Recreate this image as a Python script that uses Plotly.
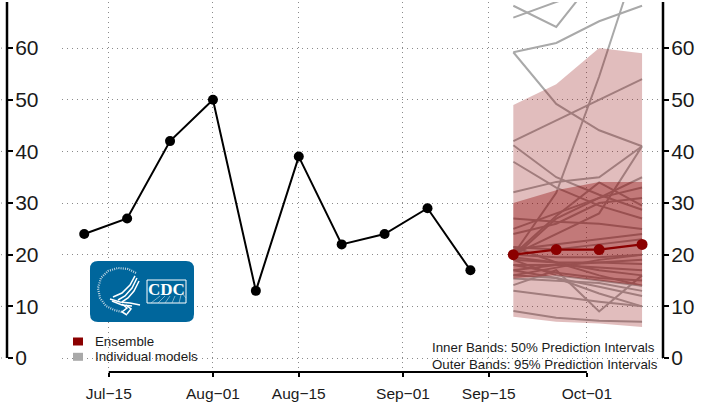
import plotly.graph_objects as go

# ---------- data ----------
obs_dates = ["2021-07-11", "2021-07-18", "2021-07-25", "2021-08-01", "2021-08-08",
             "2021-08-15", "2021-08-22", "2021-08-29", "2021-09-05", "2021-09-12"]
obs_values = [24, 27, 42, 50, 13, 39, 22, 24, 29, 17]

fc_dates = ["2021-09-19", "2021-09-26", "2021-10-03", "2021-10-10"]
ensemble = [20, 21, 21, 22]
lo95 = [8, 7, 6.7, 6]
hi95 = [49, 53, 60, 59]
lo50 = [15.4, 16, 15, 14]
hi50 = [30, 32.5, 34.1, 34.1]

models = [
    [65.9, 69, 72, 75], [68.2, 64.1, 74.6, 78], [59.2, 61, 65.2, 68.2], [59.2, 49.2, 44.1, 41],
    [20, 32, 54.5, 80], [42, 46, 50, 54], [41.2, 35, 31.6, 28.7], [38, 33, 29.5, 27],
    [32.1, 34.1, 35, 41], [19.5, 27, 31, 35], [20, 27.5, 34, 29.5], [20, 24, 28, 41],
    [27, 26.4, 26, 25], [25, 28, 31, 33], [24, 26, 30, 31], [21, 22, 23, 24], [21.5, 21, 22, 23],
    [9.1, 7.8, 7.2, 7], [13, 11.9, 10.9, 10], [14.1, 17, 9, 16], [17, 15.5, 12.5, 10],
    [16, 15.5, 13.8, 12], [15.4, 15, 14.5, 13], [19, 16, 15, 14], [18, 16.5, 15.5, 15],
    [19.5, 18.5, 17, 16], [18, 18, 17.5, 17], [19, 18.5, 18.5, 18.2], [17, 18, 18.5, 19],
    [16, 17.5, 19, 20], [20, 19.5, 19.5, 20], [21.5, 18.5, 16, 14],
]

x_tickvals = ["2021-07-15", "2021-08-01", "2021-08-15", "2021-09-01", "2021-09-15", "2021-10-01"]
x_ticktext = ["Jul\u221215", "Aug\u221201", "Aug\u221215", "Sep\u221201", "Sep\u221215", "Oct\u221201"]
y_ticks = [0, 10, 20, 30, 40, 50, 60]
legend_labels = ["Ensemble", "Individual models"]
legend_colors = ["#8b0000", "#a9a9a9"]
notes = ["Inner Bands: 50% Prediction Intervals", "Outer Bands: 95% Prediction Intervals"]

# ---------- layout helpers ----------
W, H = 719, 413
PLOT_L, PLOT_R, PLOT_T, PLOT_B = 62, 663, 2, 372
Y_RANGE = [-2.71, 68.93]
FONT = "Liberation Sans"
INK = "#1a1a1a"
BLUE = "#00669c"
GRID = "#8a8a8a"


def px(x):
    return x / PLOT_R


def py(y):
    return (PLOT_B - y) / (PLOT_B - PLOT_T)


def path(points, close=False):
    s = "M " + " L ".join(f"{px(a):.4f},{py(b):.4f}" for a, b in points)
    return s + (" Z" if close else "")


fig = go.Figure()

for m in models:
    fig.add_trace(go.Scatter(x=fc_dates, y=m, mode="lines", showlegend=False, hoverinfo="skip",
                             line=dict(color="#a9a9a9", width=2)))


def band(lo, hi, alpha):
    fig.add_trace(go.Scatter(x=fc_dates, y=lo, mode="lines", line=dict(width=0), showlegend=False,
                             hoverinfo="skip"))
    fig.add_trace(go.Scatter(x=fc_dates, y=hi, mode="lines", line=dict(width=0), fill="tonexty",
                             fillcolor=f"rgba(139,0,0,{alpha})", showlegend=False, hoverinfo="skip"))


band(lo95, hi95, 0.26)
band(lo50, hi50, 0.36)

fig.add_trace(go.Scatter(x=obs_dates, y=obs_values, mode="lines+markers", showlegend=False,
                         line=dict(color="black", width=2), marker=dict(color="black", size=10)))
fig.add_trace(go.Scatter(x=fc_dates, y=ensemble, mode="lines+markers", showlegend=False, yaxis="y2",
                         line=dict(color="#8b0000", width=2.2), marker=dict(color="#8b0000", size=11)))

shapes = [
    # axis lines
    dict(type="line", xref="paper", yref="y", x0=px(7), x1=px(7), y0=0, y1=Y_RANGE[1],
         line=dict(color="black", width=2.5)),
    dict(type="line", xref="paper", yref="y", x0=1, x1=1, y0=0, y1=Y_RANGE[1],
         line=dict(color="black", width=2.5)),
    dict(type="line", xref="x", yref="paper", x0=x_tickvals[0], x1=x_tickvals[-1], y0=0, y1=0,
         line=dict(color="black", width=2)),
    # logo panel
    dict(type="path", xref="paper", yref="paper", fillcolor=BLUE, line=dict(width=0),
         path=(f"M {px(98)},{py(261)} L {px(186)},{py(261)} Q {px(194)},{py(261)} {px(194)},{py(269)} "
               f"L {px(194)},{py(314)} Q {px(194)},{py(322)} {px(186)},{py(322)} "
               f"L {px(98)},{py(322)} Q {px(90)},{py(322)} {px(90)},{py(314)} "
               f"L {px(90)},{py(269)} Q {px(90)},{py(261)} {px(98)},{py(261)} Z")),
    # CDC box
    dict(type="rect", xref="paper", yref="paper", x0=px(147), x1=px(186), y0=py(303), y1=py(280),
         fillcolor=BLUE, line=dict(color="white", width=1)),
    # seal ring
    dict(type="path", xref="paper", yref="paper", line=dict(color="#bcd4e2", width=2.2, dash="1px,1.2px"),
         path=path([(136, 273), (128, 269), (118, 268), (108, 271), (101, 278), (98, 288),
                    (100, 298), (106, 306), (114, 310), (122, 312)])),
]

# short grid stubs left of the axis line
for v in y_ticks:
    shapes.append(dict(type="line", xref="paper", yref="y", x0=px(1), x1=px(6), y0=v, y1=v,
                       line=dict(color=GRID, width=1, dash="1px,4px")))

# stylised eagle
for stroke in [
    [(135, 276), (130, 285), (122, 293), (113, 297)],
    [(137, 278), (132, 288), (125, 296), (118, 300)],
    [(139, 281), (134, 291), (128, 298), (122, 302)],
    [(110, 299), (120, 302), (130, 303), (140, 305)],
    [(112, 301), (122, 305), (132, 306)],
    [(122, 304), (127, 308), (122, 312), (127, 315)],
    [(126, 305), (131, 309), (127, 314)],
]:
    shapes.append(dict(type="path", xref="paper", yref="paper", path=path(stroke),
                       line=dict(color="white", width=1.5)))

# rays in the CDC box
for a, b in [((151, 303), (160, 296)), ((158, 303), (165, 296)), ((165, 303), (170, 296)),
             ((172, 303), (175, 296)), ((179, 303), (181, 295)), ((186, 298), (182, 293))]:
    shapes.append(dict(type="line", xref="paper", yref="paper", x0=px(a[0]), y0=py(a[1]),
                       x1=px(b[0]), y1=py(b[1]), line=dict(color="#cfe0ea", width=0.6)))

# legend swatches
for i, c in enumerate(legend_colors):
    yc = 341.5 + 15.3 * i
    shapes.append(dict(type="rect", xref="paper", yref="paper", x0=px(73), x1=px(83),
                       y0=py(yc + 4), y1=py(yc - 4), fillcolor=c, line=dict(width=0)))

annotations = [
    dict(text=t, xref="paper", yref="paper", x=px(93.5), y=py(341.5 + 15.3 * i), xanchor="left", yanchor="middle",
         showarrow=False, font=dict(family=FONT, size=13.3, color=INK), borderpad=0)
    for i, t in enumerate(legend_labels)
] + [
    dict(text=t, xref="paper", yref="paper", x=px(430.5), y=py(347 + 17.5 * i), xanchor="left", yanchor="middle",
         showarrow=False, font=dict(family=FONT, size=13.3, color=INK), borderpad=0)
    for i, t in enumerate(notes)
] + [
    dict(text="<b>CDC</b>", xref="paper", yref="paper", x=px(166.5), y=py(289), xanchor="center", yanchor="middle",
         showarrow=False, font=dict(family="Liberation Serif", size=17, color="white")),
]

grid = dict(showgrid=True, gridcolor=GRID, gridwidth=1, griddash="1px,4px")

fig.update_layout(
    width=W, height=H, autosize=False,
    margin=dict(l=0, r=W - PLOT_R, t=PLOT_T, b=H - PLOT_B, pad=0),
    paper_bgcolor="white", plot_bgcolor="white",
    showlegend=False, shapes=shapes, annotations=annotations,
    font=dict(family=FONT, color=INK),
    xaxis=dict(type="date", domain=[px(PLOT_L), 1], range=["2021-07-07 09:00", "2021-10-13 10:00"],
               tickmode="array", tickvals=x_tickvals, ticktext=x_ticktext, ticks="outside", ticklen=4,
               tickwidth=1.5, tickcolor="black", tickfont=dict(family=FONT, size=15.5, color=INK),
               ticklabelstandoff=3, zeroline=False, showline=False, **grid),
    yaxis=dict(range=Y_RANGE, tickmode="array", tickvals=y_ticks, side="right", anchor="free",
               position=px(7), ticks="outside", ticklen=5, tickwidth=1.5, tickcolor="black",
               ticklabelstandoff=-2,
               tickfont=dict(family=FONT, size=21, color=INK), zeroline=False, showline=False, **grid),
    yaxis2=dict(range=Y_RANGE, tickmode="array", tickvals=y_ticks, side="right", overlaying="y", anchor="x",
                ticks="outside", ticklen=5, tickwidth=1.5, tickcolor="black", ticklabelstandoff=-2,
                tickfont=dict(family=FONT, size=21, color=INK), zeroline=False, showline=False, showgrid=False),
)

fig.write_html("out.html", config={"displayModeBar": False},
               post_script="document.body.style.margin='0';document.documentElement.style.overflow='hidden';")
